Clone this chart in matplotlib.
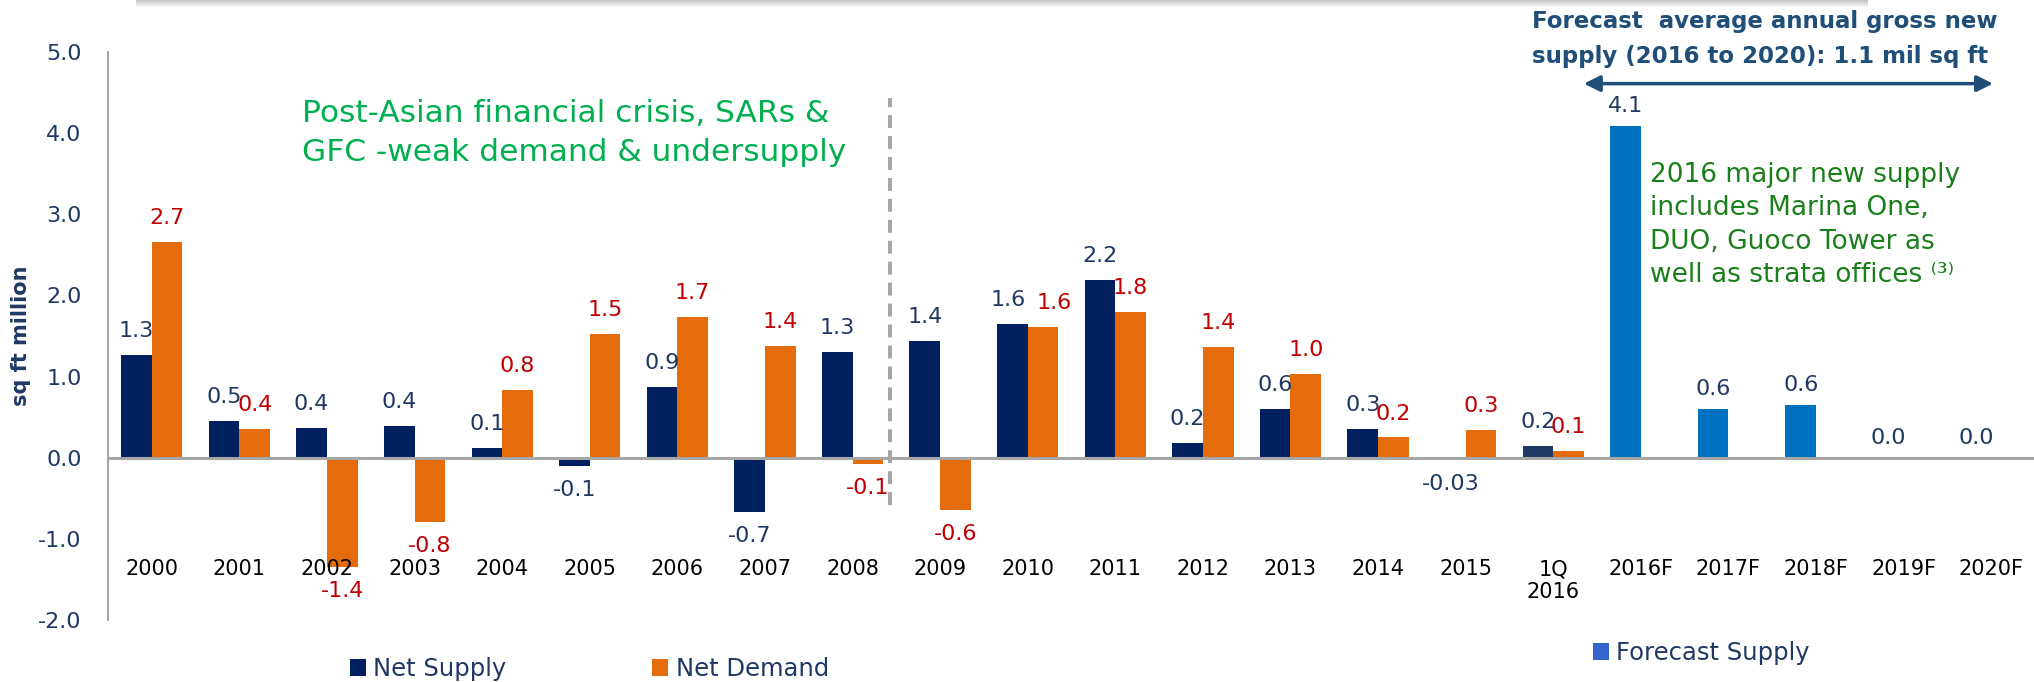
import matplotlib
matplotlib.use("Agg")
import matplotlib.pyplot as plt
from matplotlib.patches import Patch, Rectangle
from matplotlib.ticker import FormatStrFormatter
import numpy as np

# ---------------- data ----------------
categories = ['2000', '2001', '2002', '2003', '2004', '2005', '2006', '2007', '2008',
              '2009', '2010', '2011', '2012', '2013', '2014', '2015', '1Q\n2016',
              '2016F', '2017F', '2018F', '2019F', '2020F']
hist_count = 17

net_supply = [1.27, 0.45, 0.37, 0.39, 0.12, -0.10, 0.87, -0.67, 1.30, 1.44, 1.65, 2.19,
              0.18, 0.60, 0.35, -0.03, 0.15]
net_demand = [2.66, 0.36, -1.35, -0.79, 0.83, 1.52, 1.74, 1.38, -0.08, -0.64, 1.61, 1.80,
              1.36, 1.03, 0.25, 0.34, 0.08]
forecast_supply = [4.09, 0.60, 0.65, 0.0, 0.0]

supply_labels = ['1.3', '0.5', '0.4', '0.4', '0.1', '-0.1', '0.9', '-0.7', '1.3', '1.4',
                 '1.6', '2.2', '0.2', '0.6', '0.3', '-0.03', '0.2']
demand_labels = ['2.7', '0.4', '-1.4', '-0.8', '0.8', '1.5', '1.7', '1.4', '-0.1', '-0.6',
                 '1.6', '1.8', '1.4', '1.0', '0.2', '0.3', '0.1']
forecast_labels = ['4.1', '0.6', '0.6', '0.0', '0.0']

y_ticks = [-2.0, -1.0, 0.0, 1.0, 2.0, 3.0, 4.0, 5.0]

# ---------------- style ----------------
NAVY = '#002060'
NAVY_1Q = '#1F3864'
LABEL_NAVY = '#1F3864'
ORANGE = '#E46C0A'
RED = '#C00000'
FBLUE = '#0070C0'
GRAY = '#A6A6A6'
TITLE_BLUE = '#1F4E79'

plt.rcParams['font.family'] = ['DejaVu Sans']

W, H = 2034, 682
fig = plt.figure(figsize=(W / 100, H / 100), dpi=100)
ax = fig.add_axes([108 / W, 62 / H, 1927 / W, 568 / H])

x = np.arange(len(categories))
xh = x[:hist_count]
xf = x[hist_count:]
bw = 0.35

supply_colors = [NAVY] * (hist_count - 1) + [NAVY_1Q]
sup = ax.bar(xh - bw / 2, net_supply, bw, color=supply_colors, label='Net Supply')
dem = ax.bar(xh + bw / 2, net_demand, bw, color=ORANGE, label='Net Demand')
fc = ax.bar(xf - bw / 2, forecast_supply, bw, color=FBLUE, label='Forecast Supply')

sup_txt = ax.bar_label(sup, labels=supply_labels, padding=10, color=LABEL_NAVY, fontsize=16)
dem_txt = ax.bar_label(dem, labels=demand_labels, padding=10, color=RED, fontsize=16)
ax.bar_label(fc, labels=forecast_labels, padding=7, color=LABEL_NAVY, fontsize=16)
# the two 2010 labels sit side by side in the reference: nudge them apart a little
sup_txt[10].xyann = (-3, sup_txt[10].xyann[1])
dem_txt[10].xyann = (8, dem_txt[10].xyann[1])

ax.set_xlim(-0.5, len(categories) - 0.5)
ax.set_ylim(-2.0, 5.0)
ax.set_yticks(y_ticks)
ax.yaxis.set_major_formatter(FormatStrFormatter('%.1f'))
ax.set_xticks(x)
ax.set_xticklabels(categories)

for s in ['top', 'right']:
    ax.spines[s].set_visible(False)
ax.spines['bottom'].set_position(('data', -1.2))
ax.spines['bottom'].set_visible(False)
ax.spines['left'].set_color(GRAY)
ax.spines['left'].set_linewidth(1.5)
ax.axhline(0, color=GRAY, lw=2.2, zorder=3)

ax.tick_params(axis='y', length=0, pad=19, labelsize=16, labelcolor=LABEL_NAVY)
ax.tick_params(axis='x', length=0, pad=3, labelsize=15, labelcolor='black')

ax.set_ylabel('sq ft million', fontsize=15, fontweight='bold', color=LABEL_NAVY, labelpad=10)
ax.yaxis.set_label_coords(-0.040, 0.5)

# dashed divider
ax.vlines(8.43, -0.58, 4.43, colors=GRAY, linewidth=2.9, linestyles=(0, (3.2, 2.0)), zorder=4)

# forecast arrow
ax.annotate('', xy=(21.02, 4.61), xytext=(16.35, 4.61),
            arrowprops=dict(arrowstyle='<|-|>', color=TITLE_BLUE, lw=2.5,
                            mutation_scale=24, shrinkA=0, shrinkB=0),
            annotation_clip=False)

# texts
fig.text(1532 / W, 1 - 39 / H, 'Forecast  average annual gross new\nsupply (2016 to 2020): 1.1 mil sq ft',
         fontsize=16.5, fontweight='bold', color=TITLE_BLUE, va='center', ha='left', linespacing=1.65)
fig.text(302 / W, 1 - 133 / H, 'Post-Asian financial crisis, SARs &\nGFC -weak demand & undersupply',
         fontsize=22.5, color='#00B050', va='center', ha='left', linespacing=1.45)
fig.text(1650 / W, 1 - 225 / H,
         '2016 major new supply\nincludes Marina One,\nDUO, Guoco Tower as\nwell as strata offices \u207d\u00b3\u207e',
         fontsize=19, color='#1A7F1A', va='center', ha='left', linespacing=1.36)

# top shadow decoration
for k in range(7):
    fig.patches.append(Rectangle((136 / W, 1 - (k + 1) / H), (1868 - 136) / W, 1 / H,
                                 transform=fig.transFigure, facecolor='#8C8C8C',
                                 edgecolor='none', alpha=0.5 * (1 - k / 7)))

# legends
fig.legend([sup, dem], ['Net Supply', 'Net Demand'], loc='center left',
           bbox_to_anchor=(350 / W, 13 / H), ncol=2, frameon=False, fontsize=17.5,
           handlelength=0.66, handleheight=0.66, handletextpad=0.3, columnspacing=6.0,
           borderpad=0, borderaxespad=0, labelcolor=LABEL_NAVY)
fig.legend([Patch(facecolor='#3366CC')], ['Forecast Supply'], loc='center left',
           bbox_to_anchor=(1593 / W, 29 / H), frameon=False, fontsize=17.5,
           handlelength=0.66, handleheight=0.66, handletextpad=0.3,
           borderpad=0, borderaxespad=0, labelcolor=LABEL_NAVY)

fig.savefig('out.png', dpi=100)
